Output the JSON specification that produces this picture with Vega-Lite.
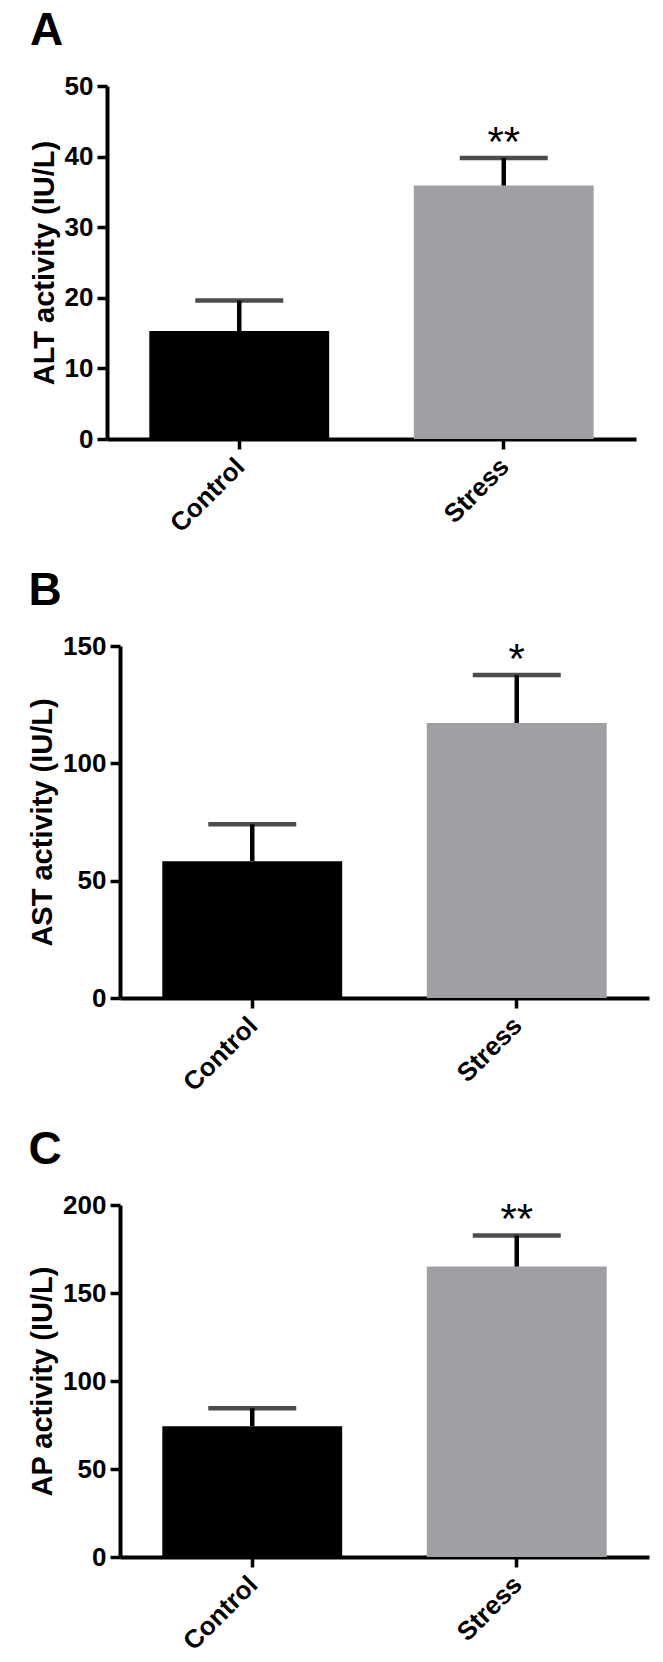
{
  "$schema": "https://vega.github.io/schema/vega-lite/v6.json",
  "padding": {"left": 28, "top": 8, "right": 5, "bottom": 5},
  "background": "white",
  "config": {
    "view": {"stroke": null},
    "font": "Liberation Sans",
    "axis": {"grid": false, "domainColor": "black", "tickColor": "black", "labelColor": "black", "titleColor": "black", "labelFont": "Liberation Sans", "titleFont": "Liberation Sans", "labelFontWeight": "bold", "titleFontWeight": "bold", "labelFontSize": 26, "titleFontSize": 29, "domainWidth": 4, "tickWidth": 3.5, "tickSize": 10},
    "title": {"anchor": "start", "frame": "bounds", "fontSize": 46, "fontWeight": "bold", "font": "Liberation Sans", "color": "black", "offset": 18}
  },
  "spacing": 31,
  "vconcat": [
    {
      "title": "A",
      "width": 516, "height": 353,
      "data": {"values": [
        {"group": "Control", "mean": 15.3, "upper": 19.6, "sig": ""},
        {"group": "Stress", "mean": 35.9, "upper": 39.8, "sig": "**"}
      ]},
      "encoding": {
        "x": {"field": "group", "type": "nominal", "sort": ["Control", "Stress"], "scale": {"range": [-13, 516], "paddingInner": 0.32, "paddingOuter": 0.16}, "axis": {"title": null, "labelAngle": -45, "labelPadding": 4, "labelOffset": -8}}
      },
      "layer": [
        {"mark": {"type": "bar"},
         "encoding": {"y": {"field": "mean", "type": "quantitative", "scale": {"domain": [0, 50], "nice": false}, "axis": {"title": "ALT activity (IU/L)", "values": [0, 10, 20, 30, 40, 50], "titlePadding": 5, "labelPadding": 4, "offset": 13}},
                      "color": {"field": "group", "type": "nominal", "scale": {"domain": ["Control", "Stress"], "range": ["#000000", "#a09fa4"]}, "legend": null}}},
        {"mark": {"type": "rule", "strokeWidth": 4.5, "color": "black"},
         "encoding": {"y": {"field": "mean", "type": "quantitative"}, "y2": {"field": "upper"}}},
        {"mark": {"type": "tick", "size": 88, "thickness": 4.5, "color": "black"},
         "encoding": {"y": {"field": "upper", "type": "quantitative"}}},
        {"mark": {"type": "text", "fontSize": 42, "baseline": "alphabetic", "dy": -2, "color": "black"},
         "encoding": {"y": {"field": "upper", "type": "quantitative"}, "text": {"field": "sig"}}}
      ]
    },
    {
      "title": "B",
      "width": 529, "height": 352,
      "data": {"values": [
        {"group": "Control", "mean": 58.3, "upper": 74.0, "sig": ""},
        {"group": "Stress", "mean": 117.2, "upper": 137.6, "sig": "*"}
      ]},
      "encoding": {
        "x": {"field": "group", "type": "nominal", "sort": ["Control", "Stress"], "scale": {"paddingInner": 0.32, "paddingOuter": 0.16}, "axis": {"title": null, "labelAngle": -45, "labelPadding": 4, "labelOffset": -8}}
      },
      "layer": [
        {"mark": {"type": "bar"},
         "encoding": {"y": {"field": "mean", "type": "quantitative", "scale": {"domain": [0, 150], "nice": false}, "axis": {"title": "AST activity (IU/L)", "values": [0, 50, 100, 150], "titlePadding": 5, "labelPadding": 4}},
                      "color": {"field": "group", "type": "nominal", "scale": {"domain": ["Control", "Stress"], "range": ["#000000", "#a09fa4"]}, "legend": null}}},
        {"mark": {"type": "rule", "strokeWidth": 4.5, "color": "black"},
         "encoding": {"y": {"field": "mean", "type": "quantitative"}, "y2": {"field": "upper"}}},
        {"mark": {"type": "tick", "size": 88, "thickness": 4.5, "color": "black"},
         "encoding": {"y": {"field": "upper", "type": "quantitative"}}},
        {"mark": {"type": "text", "fontSize": 42, "baseline": "alphabetic", "dy": -2, "color": "black"},
         "encoding": {"y": {"field": "upper", "type": "quantitative"}, "text": {"field": "sig"}}}
      ]
    },
    {
      "title": "C",
      "width": 529, "height": 352,
      "data": {"values": [
        {"group": "Control", "mean": 74.3, "upper": 84.5, "sig": ""},
        {"group": "Stress", "mean": 165.0, "upper": 182.7, "sig": "**"}
      ]},
      "encoding": {
        "x": {"field": "group", "type": "nominal", "sort": ["Control", "Stress"], "scale": {"paddingInner": 0.32, "paddingOuter": 0.16}, "axis": {"title": null, "labelAngle": -45, "labelPadding": 4, "labelOffset": -8}}
      },
      "layer": [
        {"mark": {"type": "bar"},
         "encoding": {"y": {"field": "mean", "type": "quantitative", "scale": {"domain": [0, 200], "nice": false}, "axis": {"title": "AP activity (IU/L)", "values": [0, 50, 100, 150, 200], "titlePadding": 5, "labelPadding": 4}},
                      "color": {"field": "group", "type": "nominal", "scale": {"domain": ["Control", "Stress"], "range": ["#000000", "#a09fa4"]}, "legend": null}}},
        {"mark": {"type": "rule", "strokeWidth": 4.5, "color": "black"},
         "encoding": {"y": {"field": "mean", "type": "quantitative"}, "y2": {"field": "upper"}}},
        {"mark": {"type": "tick", "size": 88, "thickness": 4.5, "color": "black"},
         "encoding": {"y": {"field": "upper", "type": "quantitative"}}},
        {"mark": {"type": "text", "fontSize": 42, "baseline": "alphabetic", "dy": -2, "color": "black"},
         "encoding": {"y": {"field": "upper", "type": "quantitative"}, "text": {"field": "sig"}}}
      ]
    }
  ]
}
